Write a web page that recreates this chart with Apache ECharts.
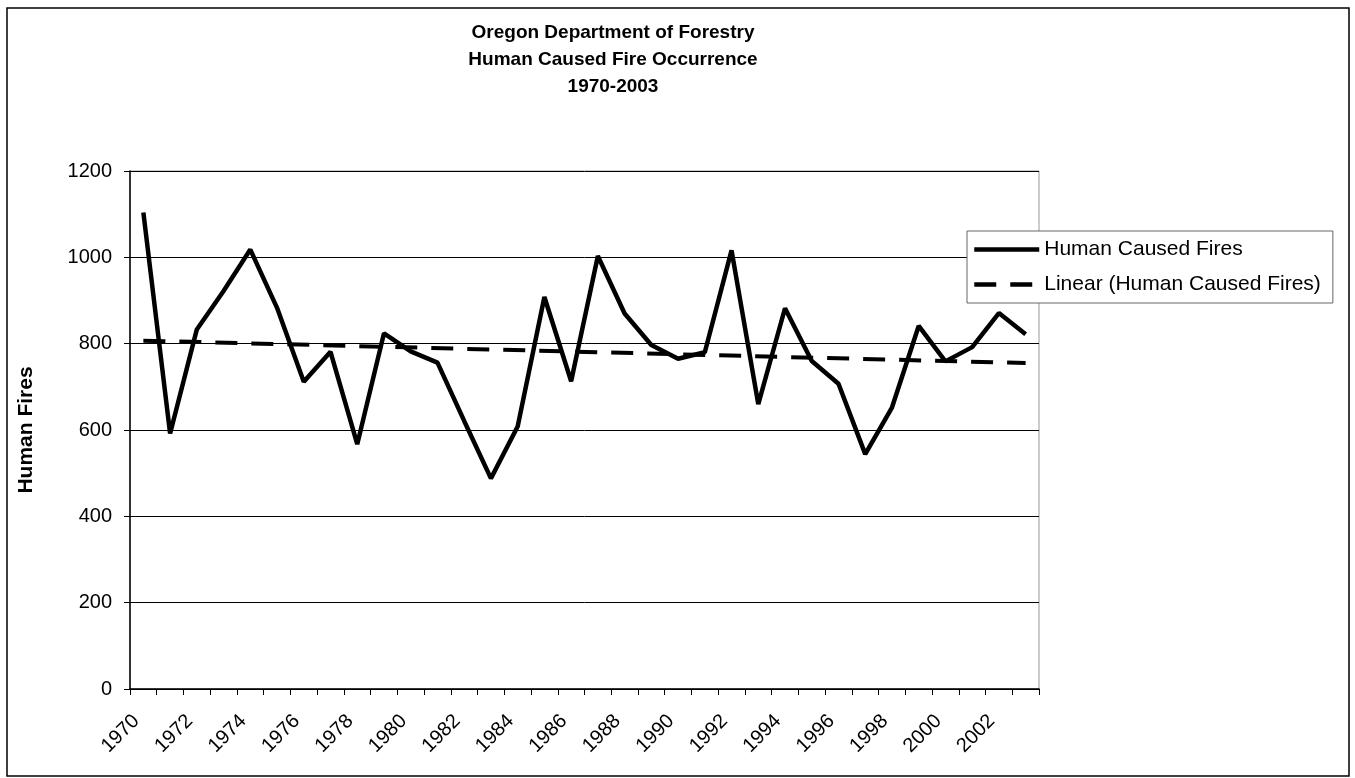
<!DOCTYPE html>
<html>
<head>
<meta charset="utf-8">
<script src="https://cdn.jsdelivr.net/npm/echarts@6/dist/echarts.min.js"></script>
<style>
  html, body { margin: 0; padding: 0; background: #fff; }
  #chart { width: 1355px; height: 778px; }
</style>
</head>
<body>
<div id="chart"></div>
<script>
// years on the category axis
const years = ['1970', '1971', '1972', '1973', '1974', '1975', '1976', '1977', '1978', '1979',
  '1980', '1981', '1982', '1983', '1984', '1985', '1986', '1987', '1988', '1989',
  '1990', '1991', '1992', '1993', '1994', '1995', '1996', '1997', '1998', '1999',
  '2000', '2001', '2002', '2003']

// human caused fires per year
const humanFires = [1104, 592, 833, 922, 1018, 883, 712, 781, 567, 824,
  782, 756, 621, 488, 608, 908, 713, 1003, 870, 797,
  765, 780, 1016, 660, 882, 760, 707, 544, 652, 841,
  759, 792, 871, 822]

// linear trend end points (first and last year)
const trendStart = 807
const trendEnd = 755

const yTicks = [0, 200, 400, 600, 800, 1000, 1200]

const FONT = '"Liberation Sans", Arial, sans-serif'

const trendData = years.map((y, i) => {
  if (i === 0) return trendStart
  if (i === years.length - 1) return trendEnd
  return null
})

const chart = echarts.init(document.getElementById('chart'), null, { renderer: 'canvas' })

chart.setOption({
  backgroundColor: '#fff',
  animation: false,
  title: {
    text: 'Oregon Department of Forestry\nHuman Caused Fire Occurrence\n1970-2003',
    left: 608,
    top: 14,
    textAlign: 'center',
    textStyle: {
      fontFamily: FONT,
      fontSize: 19,
      fontWeight: 'bold',
      color: '#000',
      lineHeight: 27
    }
  },
  legend: {
    orient: 'vertical',
    left: 967,
    top: 231,
    padding: [8, 12, 8, 5],
    itemGap: 14,
    itemWidth: 65,
    itemHeight: 14,
    backgroundColor: '#fff',
    borderColor: '#666',
    borderWidth: 1,
    itemStyle: { opacity: 0 },
    lineStyle: { width: 4.5 },
    textStyle: { fontFamily: FONT, fontSize: 21, color: '#000' },
    data: ['Human Caused Fires', 'Linear (Human Caused Fires)']
  },
  grid: {
    left: 130,
    top: 171,
    right: 316,
    bottom: 89,
    show: true,
    borderColor: '#999',
    borderWidth: 1
  },
  xAxis: {
    type: 'category',
    data: years,
    boundaryGap: true,
    axisLine: { lineStyle: { color: '#000', width: 1.5 } },
    axisTick: { show: true, interval: 0, length: 6, lineStyle: { color: '#000' } },
    axisLabel: {
      interval: 1,
      rotate: 45,
      margin: 36,
      verticalAlign: 'bottom',
      fontFamily: FONT,
      fontSize: 20,
      color: '#000'
    },
    splitLine: { show: false }
  },
  yAxis: {
    type: 'value',
    min: yTicks[0],
    max: yTicks[yTicks.length - 1],
    interval: 200,
    name: 'Human Fires',
    nameLocation: 'middle',
    nameGap: 93,
    nameTextStyle: { fontFamily: FONT, fontSize: 21, fontWeight: 'bold', color: '#000' },
    axisLine: { show: true, lineStyle: { color: '#000', width: 1.5 } },
    axisTick: { show: true, length: 6, lineStyle: { color: '#000' } },
    axisLabel: {
      margin: 18,
      fontFamily: FONT,
      fontSize: 20,
      color: '#000',
      formatter: (v) => String(v)
    },
    splitLine: { show: true, lineStyle: { color: '#000', width: 1 } }
  },
  series: [
    {
      name: 'Human Caused Fires',
      type: 'line',
      data: humanFires,
      symbol: 'none',
      lineStyle: { color: '#000', width: 4.5 },
      itemStyle: { color: '#000' },
      z: 3
    },
    {
      name: 'Linear (Human Caused Fires)',
      type: 'line',
      data: trendData,
      connectNulls: true,
      symbol: 'none',
      lineStyle: { color: '#000', width: 4, type: [22, 14] },
      itemStyle: { color: '#000' },
      z: 2
    }
  ],
  graphic: [
    {
      type: 'rect',
      shape: { x: 7, y: 8, width: 1342, height: 768 },
      style: { fill: 'none', stroke: '#000', lineWidth: 1.5 },
      silent: true
    }
  ]
})
</script>
</body>
</html>
